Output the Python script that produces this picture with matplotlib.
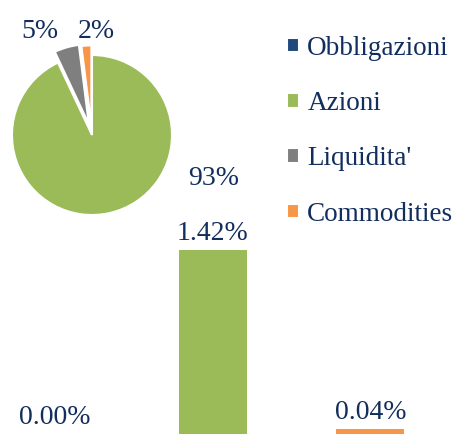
import matplotlib.pyplot as plt

# pie: asset allocation
categories = ['Obbligazioni', 'Azioni', "Liquidita'", 'Commodities']
shares = [0, 93, 5, 2]
colors = ['#1F497D', '#9BBB59', '#7F7F7F', '#F79646']

# bars: contribution per asset class
bar_cats = ['Obbligazioni', 'Azioni', 'Commodities']
bar_vals = [0.00, 1.42, 0.04]
bar_colors = ['#1F497D', '#9BBB59', '#F79646']

txt = '#122E5E'
plt.rcParams['font.family'] = ['Liberation Serif', 'DejaVu Serif']

fig = plt.figure(figsize=(4.57, 4.34), dpi=100)

# bar chart across the lower part
bx = fig.add_axes([0, 0, 1, 1])
x = list(range(len(bar_vals)))
bx.bar(x, bar_vals, width=0.43, color=bar_colors)
for xi, v in zip(x, bar_vals):
    bx.annotate(f'{v:.2f}%', (xi, v), xytext=(0, 3), textcoords='offset points',
                ha='center', va='bottom', fontsize=20, color=txt)
bx.set_xlim(-0.35, 2.55)
bx.set_ylim(0, 3.35)
bx.axis('off')

# pie in the upper left
px, py, size = 92 / 457, (434 - 135) / 434, 200
ax = fig.add_axes([px - size / 2 / 457, py - size / 2 / 434, size / 457, size / 434])
wedges, _ = ax.pie(shares, colors=colors, startangle=90, counterclock=False,
                   explode=[0, 0, 0.14, 0.12],
                   wedgeprops=dict(edgecolor='white', linewidth=1.5))
ax.set_xlim(-1.25, 1.25)
ax.set_ylim(-1.25, 1.25)
ax.set_aspect('equal')
ax.axis('off')

label_pos = {1: (1.52, -0.54), 2: (-0.65, 1.30), 3: (0.05, 1.30)}
for i, (lx, ly) in label_pos.items():
    ax.text(lx, ly, f'{shares[i]}%', ha='center', va='center', fontsize=20,
            color=txt, clip_on=False)

fig.legend(wedges, categories, loc='upper left', bbox_to_anchor=(0.628, 0.918),
           frameon=False, fontsize=19.5, labelcolor=txt, handlelength=0.45,
           handleheight=0.45, handletextpad=0.3, labelspacing=1.12,
           borderaxespad=0, borderpad=0)

fig.savefig('out.png', dpi=100)
